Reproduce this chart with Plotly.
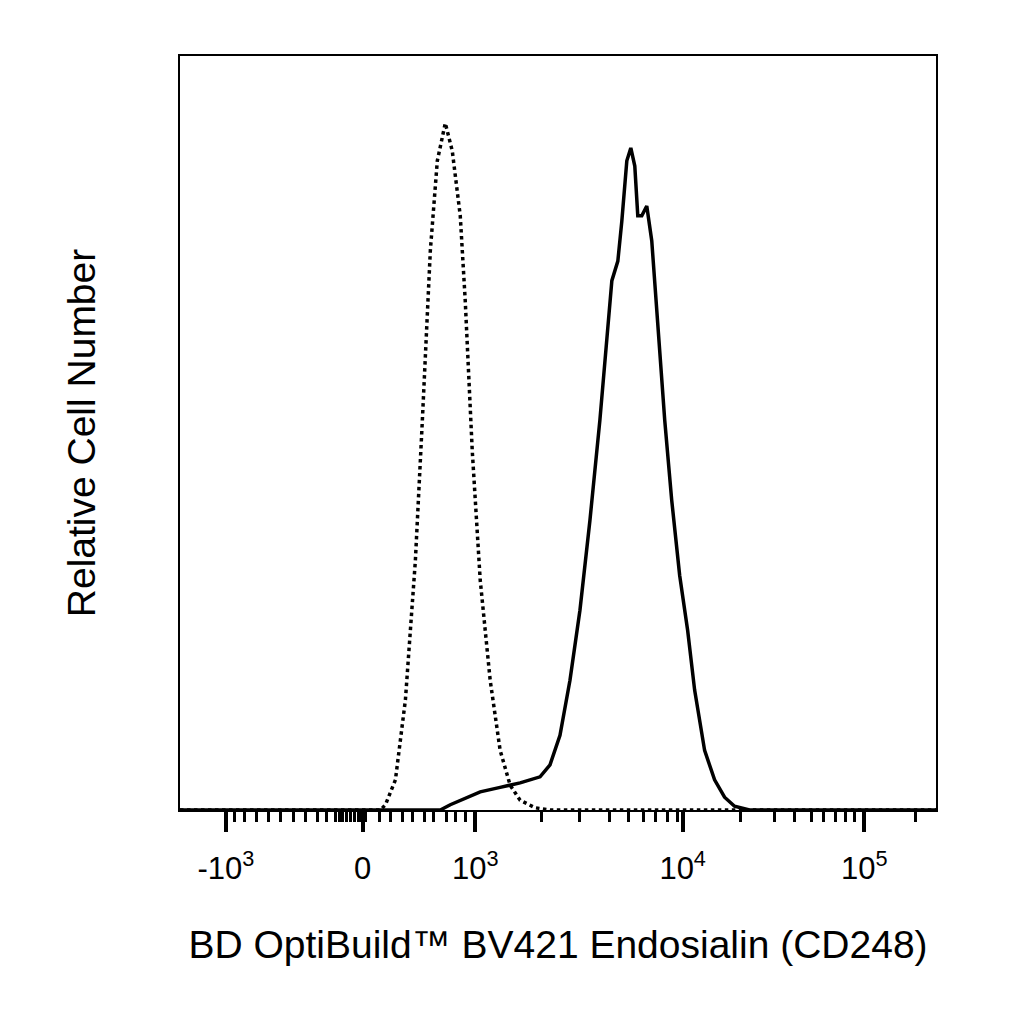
import plotly.graph_objects as go

# x positions in display units (biexponential display scale)
iso_x = [179,380,385,395,405,415,422,430,437,445,452,460,465,472,480,490,500,510,520,535,550,937]
iso_y = [0,0,0.007,0.040,0.146,0.331,0.517,0.742,0.861,0.911,0.874,0.788,0.675,0.477,0.305,0.172,0.079,0.033,0.013,0.003,0,0]
sam_x = [179,440,450,465,480,500,520,540,550,560,570,580,590,600,608,612,618,622,627,631,635,638,642,647,652,658,665,672,680,688,695,705,715,725,735,750,937]
sam_y = [0,0,0.007,0.016,0.024,0.030,0.036,0.044,0.060,0.099,0.172,0.265,0.384,0.517,0.636,0.702,0.728,0.781,0.861,0.878,0.854,0.788,0.788,0.801,0.755,0.649,0.517,0.411,0.311,0.238,0.159,0.079,0.040,0.017,0.005,0,0]
major_vals = [225,362,475,683,865]
major_text = ["-10<sup>3</sup>","0","10<sup>3</sup>","10<sup>4</sup>","10<sup>5</sup>"]
minor_crop = [110,130,155,180,205,232,255,280,300,318,325,332,340,348,356,364,372,380,408,430,455,475,500,520,545,565,585,742,820,880,920,950,975,1000,1020,1150,1220,1260,1295,1320,1345,1365,1385,1510]
minor_vals = [c/2.05+180 for c in minor_crop]

fig = go.Figure()
fig.add_trace(go.Scatter(x=iso_x, y=iso_y, mode="lines", line=dict(color="black", width=3.5, dash="dot"), showlegend=False))
fig.add_trace(go.Scatter(x=sam_x, y=sam_y, mode="lines", line=dict(color="black", width=3.5), showlegend=False))
fig.add_trace(go.Scatter(x=[300], y=[0], xaxis="x2", mode="markers", marker=dict(opacity=0), showlegend=False, hoverinfo="skip"))

fig.update_layout(
    width=1024, height=1024, plot_bgcolor="white", paper_bgcolor="white",
    margin=dict(l=172, r=96, t=48, b=222),
    font=dict(family="Liberation Sans, Arial", color="black", size=24),
    xaxis=dict(range=[179,937], tickvals=major_vals, ticktext=major_text, ticks="outside",
               ticklen=20, tickwidth=4, tickcolor="black", showgrid=False, zeroline=False,
               showline=True, linecolor="black", linewidth=2, mirror=True,
               tickfont=dict(size=31), ticklabelstandoff=10,
               title=dict(text="BD OptiBuild™ BV421 Endosialin (CD248)", font=dict(size=39), standoff=45)),
    xaxis2=dict(range=[179,937], overlaying="x", side="bottom", anchor="y", tickvals=minor_vals,
                showticklabels=False, ticks="outside", ticklen=11, tickwidth=3, tickcolor="black",
                showgrid=False, zeroline=False, showline=False),
    yaxis=dict(range=[0,1], showticklabels=False, ticks="", showgrid=False, zeroline=False,
               showline=True, linecolor="black", linewidth=2, mirror=True,
               title=dict(text="Relative Cell Number", font=dict(size=39), standoff=70)),
)
fig.write_html("out.html")
